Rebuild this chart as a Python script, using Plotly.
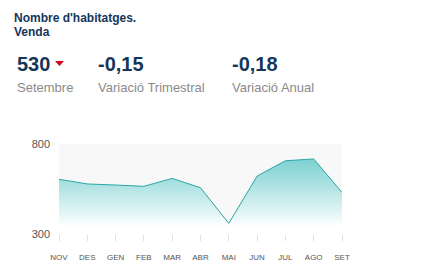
import plotly.graph_objects as go

months = ["NOV", "DES", "GEN", "FEB", "MAR", "ABR", "MAI", "JUN", "JUL", "AGO", "SET"]
values = [604, 578, 572, 565, 609, 557, 359, 622, 707, 717, 531]
y_ticks = [300, 800]

fig = go.Figure()
fig.add_trace(go.Scatter(
    x=months, y=values, mode="lines",
    line=dict(color="#2ba6a6", width=1),
    fill="tozeroy",
    fillgradient=dict(type="vertical", start=340, stop=740,
                      colorscale=[[0, "rgba(255,255,255,1)"], [1, "rgba(110,204,204,0.95)"]]),
    hoverinfo="skip", showlegend=False,
))

font = "Liberation Sans, Arial, sans-serif"
navy = "#15365a"
gray = "#8a8a8a"

fig.update_layout(
    width=437, height=278,
    margin=dict(l=59, r=95, t=144, b=44),
    paper_bgcolor="white", plot_bgcolor="#f8f8f8",
    font=dict(family=font),
    xaxis=dict(range=[0, 10], showgrid=False, zeroline=False, showline=False,
               ticks="outside", ticklen=6, tickcolor="#e0e0e0",
               tickfont=dict(size=8, color="#555"), tickmode="array",
               tickvals=list(range(len(months))), ticktext=months,
               ticklabelstandoff=9, fixedrange=True),
    yaxis=dict(range=[300, 800], tickvals=y_ticks, showgrid=True, gridcolor="#ebebeb",
               zeroline=False, showline=False, tickfont=dict(size=11, color="#555"),
               ticks="", ticklabelstandoff=8, fixedrange=True),
)

def px(x):
    return (x - 59) / 283

def py(y):
    return (278 - 44 - y) / 90

ann = [
    dict(text="<b>Nombre d'habitatges.</b>", x=12, y=18, size=12, color=navy),
    dict(text="<b>Venda</b>", x=12, y=32, size=12, color=navy),
    dict(text="<b>530</b>", x=15, y=64, size=20, color=navy),
    dict(text="<b>-0,15</b>", x=96, y=64, size=20, color=navy),
    dict(text="<b>-0,18</b>", x=230, y=64, size=20, color=navy),
    dict(text="Setembre", x=15, y=87, size=13, color=gray),
    dict(text="Variació Trimestral", x=96, y=87, size=13, color=gray),
    dict(text="Variació Anual", x=230, y=87, size=13, color=gray),
]
for a in ann:
    fig.add_annotation(
        text=a["text"], xref="paper", yref="paper",
        x=px(a["x"]), y=py(a["y"]),
        xanchor="left", yanchor="middle", showarrow=False,
        font=dict(size=a["size"], color=a["color"], family=font),
    )

# small red "down" indicator triangle next to the headline value
fig.add_shape(
    type="path", xref="paper", yref="paper",
    path=f"M {px(55)} {py(61)} L {px(64)} {py(61)} L {px(59.5)} {py(66)} Z",
    fillcolor="#d0021b", line=dict(width=0),
)

fig.write_html("out.html")
